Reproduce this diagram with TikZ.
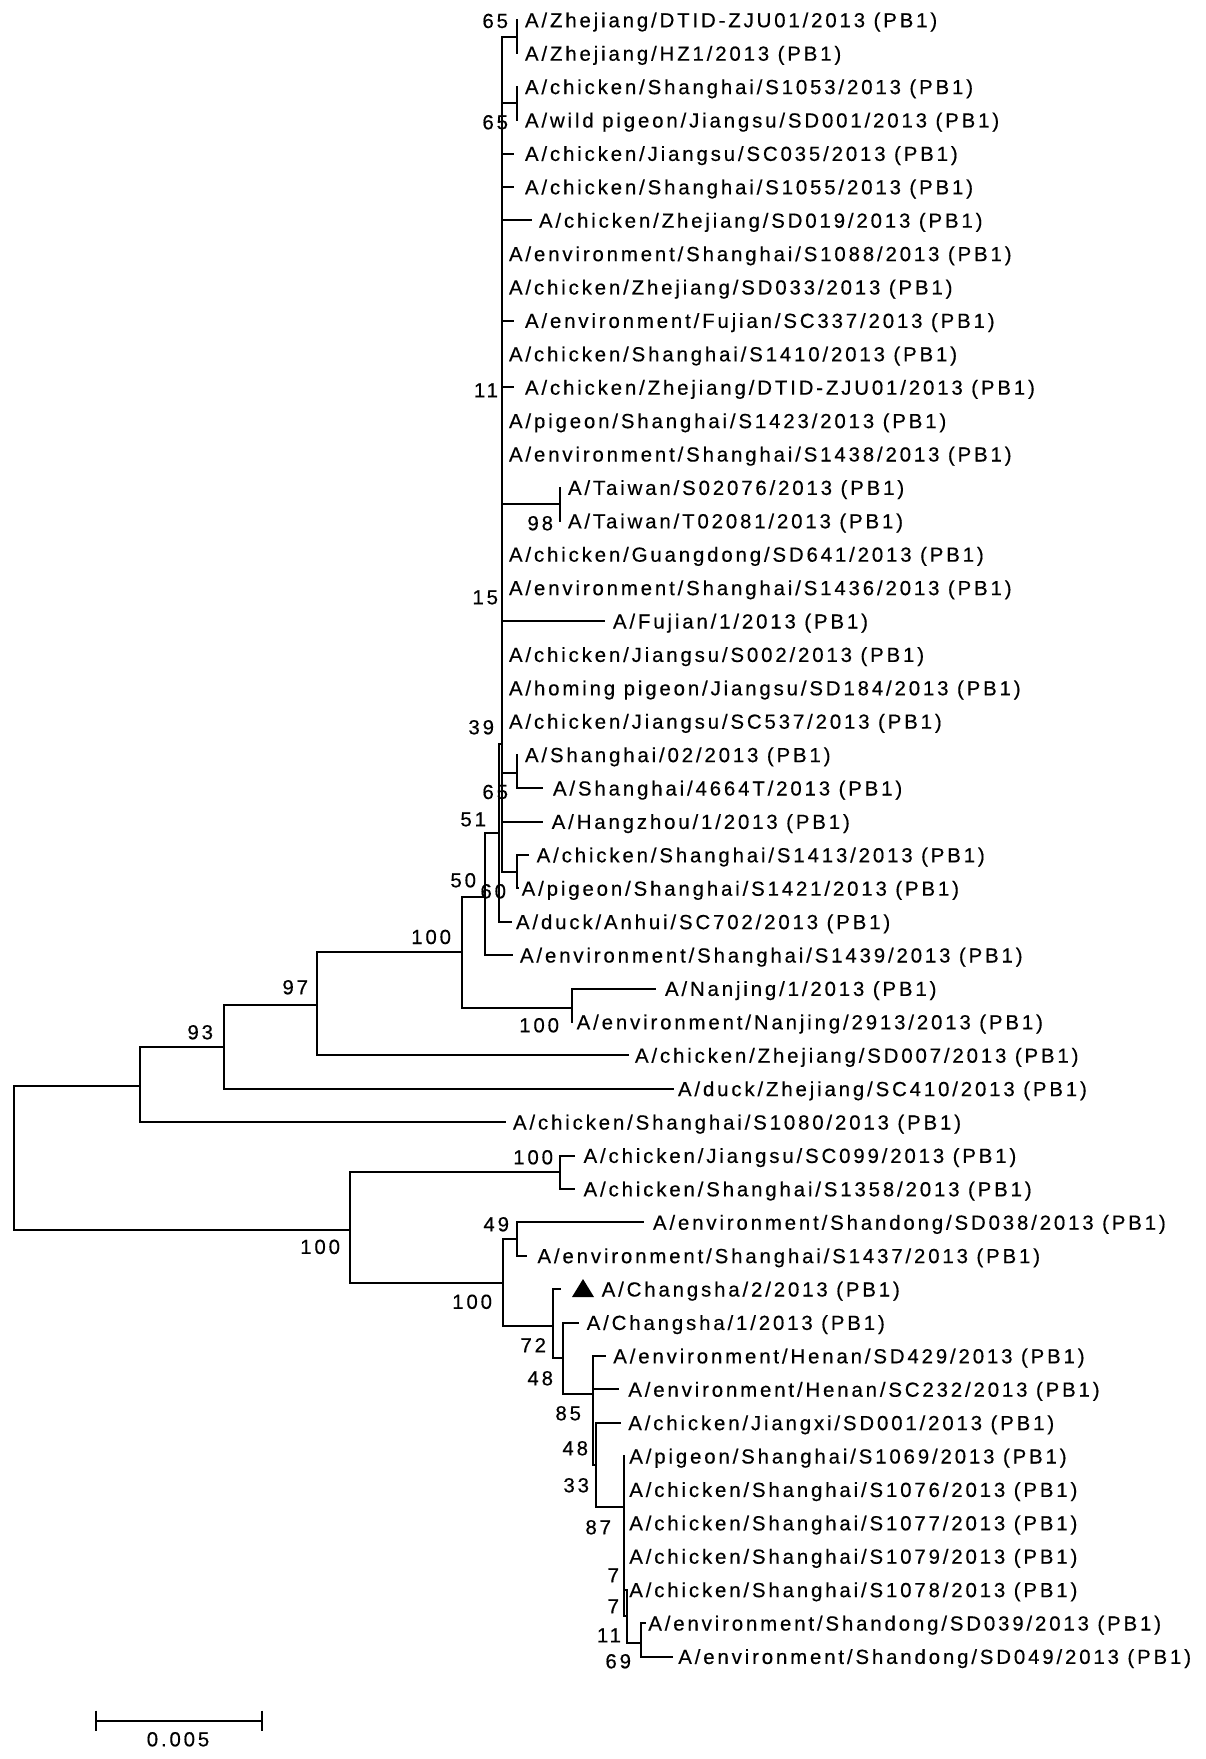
\documentclass[tikz,border=0pt]{standalone}
\usepackage{fontspec}
\newfontfamily\labfont[LetterSpace=14,FakeBold=0.4]{Liberation Sans}
\begin{document}
\begin{tikzpicture}[x=0.5pt,y=-0.5pt,
  lab/.style={font=\labfont\fontsize{10.2pt}{12pt}\selectfont, inner sep=0pt, outer sep=0pt},
  br/.style={line width=1pt, line cap=rect}]
\useasboundingbox (0,0) rectangle (1205,1759);
\newcommand\lf[5]{%
  \pgfmathsetmacro\ly{20+(#2-1)*33.4}%
  \coordinate (#1) at (#3,\ly);%
  \node[lab, anchor=base west] (#1t) at (#4,\ly+7.3) {#5};}
\newcommand\bsv[4]{\node[lab, anchor=base east] (#1) at (#2,#3+7.3) {#4};}
% leaves
\lf{l1}{1}{517}{525}{A/Zhejiang/DTID-ZJU01/2013 (PB1)}
\lf{l2}{2}{517}{525}{A/Zhejiang/HZ1/2013 (PB1)}
\lf{l3}{3}{517}{525}{A/chicken/Shanghai/S1053/2013 (PB1)}
\lf{l4}{4}{517}{525}{A/wild pigeon/Jiangsu/SD001/2013 (PB1)}
\lf{l5}{5}{513}{525}{A/chicken/Jiangsu/SC035/2013 (PB1)}
\lf{l6}{6}{513}{525}{A/chicken/Shanghai/S1055/2013 (PB1)}
\lf{l7}{7}{530.7}{539}{A/chicken/Zhejiang/SD019/2013 (PB1)}
\lf{l8}{8}{502.3}{509}{A/environment/Shanghai/S1088/2013 (PB1)}
\lf{l9}{9}{502.3}{509}{A/chicken/Zhejiang/SD033/2013 (PB1)}
\lf{l10}{10}{513}{525}{A/environment/Fujian/SC337/2013 (PB1)}
\lf{l11}{11}{502.3}{509}{A/chicken/Shanghai/S1410/2013 (PB1)}
\lf{l12}{12}{513}{525}{A/chicken/Zhejiang/DTID-ZJU01/2013 (PB1)}
\lf{l13}{13}{502.3}{509}{A/pigeon/Shanghai/S1423/2013 (PB1)}
\lf{l14}{14}{502.3}{509}{A/environment/Shanghai/S1438/2013 (PB1)}
\lf{l15}{15}{560}{568}{A/Taiwan/S02076/2013 (PB1)}
\lf{l16}{16}{560}{568}{A/Taiwan/T02081/2013 (PB1)}
\lf{l17}{17}{502.3}{509}{A/chicken/Guangdong/SD641/2013 (PB1)}
\lf{l18}{18}{502.3}{509}{A/environment/Shanghai/S1436/2013 (PB1)}
\lf{l19}{19}{604}{613}{A/Fujian/1/2013 (PB1)}
\lf{l20}{20}{502.3}{509}{A/chicken/Jiangsu/S002/2013 (PB1)}
\lf{l21}{21}{502.3}{509}{A/homing pigeon/Jiangsu/SD184/2013 (PB1)}
\lf{l22}{22}{502.3}{509}{A/chicken/Jiangsu/SC537/2013 (PB1)}
\lf{l23}{23}{517}{525}{A/Shanghai/02/2013 (PB1)}
\lf{l24}{24}{541.7}{553}{A/Shanghai/4664T/2013 (PB1)}
\lf{l25}{25}{541.7}{551.7}{A/Hangzhou/1/2013 (PB1)}
\lf{l26}{26}{528}{536.7}{A/chicken/Shanghai/S1413/2013 (PB1)}
\lf{l27}{27}{518}{521.7}{A/pigeon/Shanghai/S1421/2013 (PB1)}
\lf{l28}{28}{511}{516}{A/duck/Anhui/SC702/2013 (PB1)}
\lf{l29}{29}{511.7}{520}{A/environment/Shanghai/S1439/2013 (PB1)}
\lf{l30}{30}{655}{665}{A/Nanjing/1/2013 (PB1)}
\lf{l31}{31}{571.7}{576.7}{A/environment/Nanjing/2913/2013 (PB1)}
\lf{l32}{32}{628}{635}{A/chicken/Zhejiang/SD007/2013 (PB1)}
\lf{l33}{33}{673}{678}{A/duck/Zhejiang/SC410/2013 (PB1)}
\lf{l34}{34}{505}{513}{A/chicken/Shanghai/S1080/2013 (PB1)}
\lf{l35}{35}{574}{583.6}{A/chicken/Jiangsu/SC099/2013 (PB1)}
\lf{l36}{36}{574}{583.6}{A/chicken/Shanghai/S1358/2013 (PB1)}
\lf{l37}{37}{643}{653}{A/environment/Shandong/SD038/2013 (PB1)}
\lf{l38}{38}{526}{537.5}{A/environment/Shanghai/S1437/2013 (PB1)}
\lf{l39}{39}{560}{601.7}{A/Changsha/2/2013 (PB1)}
\lf{l40}{40}{578.3}{586.7}{A/Changsha/1/2013 (PB1)}
\lf{l41}{41}{605}{613.3}{A/environment/Henan/SD429/2013 (PB1)}
\lf{l42}{42}{618.3}{628.3}{A/environment/Henan/SC232/2013 (PB1)}
\lf{l43}{43}{620}{628.3}{A/chicken/Jiangxi/SD001/2013 (PB1)}
\lf{l44}{44}{624}{629.3}{A/pigeon/Shanghai/S1069/2013 (PB1)}
\lf{l45}{45}{624}{629.3}{A/chicken/Shanghai/S1076/2013 (PB1)}
\lf{l46}{46}{624}{629.3}{A/chicken/Shanghai/S1077/2013 (PB1)}
\lf{l47}{47}{624}{629.3}{A/chicken/Shanghai/S1079/2013 (PB1)}
\lf{l48}{48}{624}{629.3}{A/chicken/Shanghai/S1078/2013 (PB1)}
\lf{l49}{49}{645}{648.3}{A/environment/Shandong/SD039/2013 (PB1)}
\lf{l50}{50}{671.7}{678.3}{A/environment/Shandong/SD049/2013 (PB1)}
% internal nodes
\coordinate (root) at (13.5,1155);
\coordinate (nAA) at (140.3,1086);
\coordinate (n93) at (224.4,1046.7);
\coordinate (n97) at (317.3,1004.5);
\coordinate (n100a) at (461.7,952);
\coordinate (n100b) at (571.7,1008.3);
\coordinate (n50) at (485,896.7);
\coordinate (n51) at (499.3,833);
\coordinate (nBig) at (502.3,744.3);
\coordinate (nA12) at (517,36.7);
\coordinate (nA34) at (517,103.5);
\coordinate (nTW) at (560,504.3);
\coordinate (n2324) at (517,772.7);
\coordinate (n2627) at (516.7,871.7);
\coordinate (nB) at (350,1229.7);
\coordinate (nC) at (560,1172.3);
\coordinate (nD) at (503.3,1283.3);
\coordinate (nE) at (517.4,1239.1);
\coordinate (nF) at (553.3,1326);
\coordinate (nG) at (563.3,1358.3);
\coordinate (nH) at (593.3,1394);
\coordinate (nH2) at (595.8,1464.7);
\coordinate (nI) at (624,1506.7);
\coordinate (nI2) at (626.5,1616);
\coordinate (nJ) at (641,1643);
% branches
\draw[br] (root) |- (nAA);
\draw[br] (root) |- (nB);
\draw[br] (nAA) |- (n93);
\draw[br] (nAA) |- (l34);
\draw[br] (n93) |- (n97);
\draw[br] (n93) |- (l33);
\draw[br] (n97) |- (n100a);
\draw[br] (n97) |- (l32);
\draw[br] (n100a) |- (n50);
\draw[br] (n100a) |- (n100b);
\draw[br] (n100b) |- (l30);
\draw[br] (n100b) |- (l31);
\draw[br] (n50) |- (n51);
\draw[br] (n50) |- (l29);
\draw[br] (n51) |- (nBig);
\draw[br] (n51) |- (l28);
\foreach \c in {nA12,nA34,l5,l6,l7,l8,l9,l10,l11,l12,l13,l14,nTW,l17,l18,l19,l20,l21,l22,n2324,l25,n2627}
  \draw[br] (nBig) |- (\c);
\draw[br] (nA12) |- (l1); \draw[br] (nA12) |- (l2);
\draw[br] (nA34) |- (l3); \draw[br] (nA34) |- (l4);
\draw[br] (nTW) |- (l15); \draw[br] (nTW) |- (l16);
\draw[br] (n2324) |- (l23); \draw[br] (n2324) |- (l24);
\draw[br] (n2627) |- (l26); \draw[br] (n2627) |- (l27);
\draw[br] (nB) |- (nC);
\draw[br] (nB) |- (nD);
\draw[br] (nC) |- (l35); \draw[br] (nC) |- (l36);
\draw[br] (nD) |- (nE); \draw[br] (nD) |- (nF);
\draw[br] (nE) |- (l37); \draw[br] (nE) |- (l38);
\draw[br] (nF) |- (l39); \draw[br] (nF) |- (nG);
\draw[br] (nG) |- (l40); \draw[br] (nG) |- (nH);
\draw[br] (nH) |- (l41); \draw[br] (nH) |- (l42); \draw[br] (nH) |- (nH2);
\draw[br] (nH2) |- (l43); \draw[br] (nH2) |- (nI);
\foreach \c in {l44,l45,l46,l47,l48,nI2} \draw[br] (nI) |- (\c);
\draw[br] (nI2) |- (l48); \draw[br] (nI2) |- (nJ);
\draw[br] (nJ) |- (l49); \draw[br] (nJ) |- (l50);
% marker
\fill (572,1297) -- (583,1279) -- (594,1297) -- cycle;
% bootstrap values
\bsv{b1}{508}{20.7}{65}
\bsv{b2}{508}{122}{65}
\bsv{b3}{498}{390}{11}
\bsv{b4}{553}{523}{98}
\bsv{b5}{498}{597}{15}
\bsv{b6}{494}{727}{39}
\bsv{b7}{508}{791.7}{65}
\bsv{b8}{486}{819}{51}
\bsv{b9}{476}{880}{50}
\bsv{b10}{506}{891}{60}
\bsv{b11}{451}{936.7}{100}
\bsv{b12}{559}{1025}{100}
\bsv{b13}{308}{987}{97}
\bsv{b14}{213}{1032}{93}
\bsv{b15}{553}{1157}{100}
\bsv{b16}{340}{1246.6}{100}
\bsv{b17}{509}{1224}{49}
\bsv{b18}{492}{1301.5}{100}
\bsv{b19}{546}{1345}{72}
\bsv{b20}{553}{1378}{48}
\bsv{b21}{581}{1413}{85}
\bsv{b22}{588}{1448}{48}
\bsv{b23}{589}{1485}{33}
\bsv{b24}{611}{1527}{87}
\bsv{b25}{619}{1575}{7}
\bsv{b26}{619}{1606}{7}
\bsv{b27}{621}{1635}{11}
\bsv{b28}{631}{1661}{69}
% scale bar
\coordinate (sb1) at (96,1720.7);
\coordinate (sb2) at (262.3,1720.7);
\draw[br, line cap=butt] (sb1) -- (sb2);
\draw[br, line cap=butt] ([yshift=5]sb1) -- ([yshift=-5]sb1);
\draw[br, line cap=butt] ([yshift=5]sb2) -- ([yshift=-5]sb2);
\node[lab, anchor=base] (sbl) at (178,1746.3) {0.005};
\end{tikzpicture}
\end{document}
